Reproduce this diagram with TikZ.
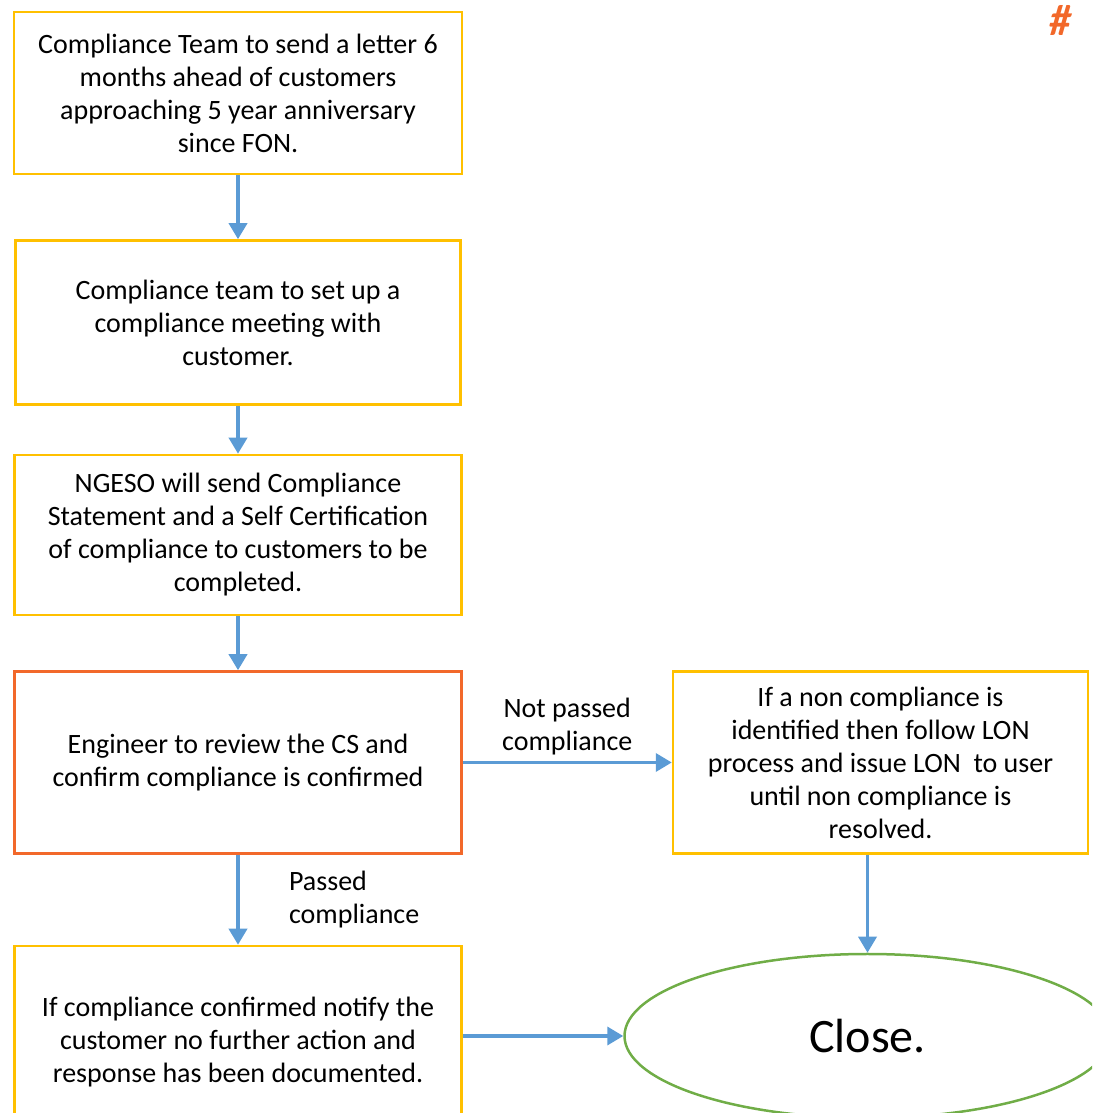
\documentclass[tikz,border=0pt]{standalone}
\usepackage{fontspec}
\setmainfont{Carlito}
\usetikzlibrary{positioning}
\usetikzlibrary{arrows.meta}
\usetikzlibrary{shapes.geometric}
\definecolor{boxyellow}{RGB}{255,192,0}
\definecolor{boxorange}{RGB}{242,104,42}
\definecolor{flowblue}{RGB}{91,155,213}
\definecolor{closegreen}{RGB}{112,173,71}
\tikzset{stepbox/.style={rectangle,draw=boxyellow,fill=white,line width=2.5pt,
inner sep=2pt,align=center,font=\fontsize{28}{33}\selectfont}}
\tikzset{reviewbox/.style={stepbox,draw=boxorange}}
\tikzset{closeshape/.style={ellipse,draw=closegreen,line width=2.5pt,inner sep=0pt,
minimum width=486pt,minimum height=164pt,font=\fontsize{48}{56}\selectfont}}
\tikzset{flow/.style={draw=flowblue,line width=3.5pt,-{Triangle[length=16pt,width=18pt]}}}
\tikzset{flowlabel/.style={font=\fontsize{28}{33}\selectfont}}

\begin{document}
\begin{tikzpicture}[x=1pt,y=1pt]
    \useasboundingbox (0,0) rectangle (1092,1113);
    \clip (0,0) rectangle (1092,1113);

        \node[stepbox, minimum width=448pt, minimum height=162pt] (letter) at (238,1020)
            {Compliance Team to send a letter 6\\months ahead of customers\\approaching 5 year anniversary\\since FON.};
        \node[stepbox, minimum width=445pt, minimum height=164pt] (meeting) [below=64pt of letter]
            {Compliance team to set up a\\compliance meeting with\\customer.};
        \node[stepbox, minimum width=447pt, minimum height=160pt] (statement) [below=48pt of meeting]
            {NGESO will send Compliance\\Statement and a Self Certification\\of compliance to customers to be\\completed.};
        \node[reviewbox, minimum width=447pt, minimum height=182pt] (review) [below=54pt of statement]
            {Engineer to review the CS and\\confirm compliance is confirmed};
        \node[stepbox, minimum width=447pt, minimum height=192pt] (notify) [below=90pt of review]
            {If compliance confirmed notify the\\customer no further action and\\response has been documented.};
        \node[stepbox, minimum width=415pt, minimum height=182pt] (noncomp) [right=209pt of review]
            {If a non compliance is\\identified then follow LON\\process and issue LON~ to user\\until non compliance is\\resolved.};
        \node[closeshape] (close) [below=98pt of noncomp, xshift=-13pt] {Close.};

        \node[text=boxorange, font=\fontsize{44}{48}\selectfont\bfseries\itshape, anchor=north, inner sep=0pt] (hash) at (1060,1108) {\#};

        \draw[flow] (letter) -- (meeting);
        \draw[flow] (meeting) -- (statement);
        \draw[flow] (statement) -- (review);
        \draw[flow] (review) -- node[flowlabel, right=46pt, align=left] {Passed\\compliance} (notify);
        \draw[flow] (review) -- node[flowlabel, above=2pt, align=center] {Not passed\\compliance} (noncomp);
        \draw[flow] (close.north |- noncomp.south) -- (close.north);
        \draw[flow] (notify.east |- close.west) -- (close.west);

    \end{tikzpicture}
\end{document}
